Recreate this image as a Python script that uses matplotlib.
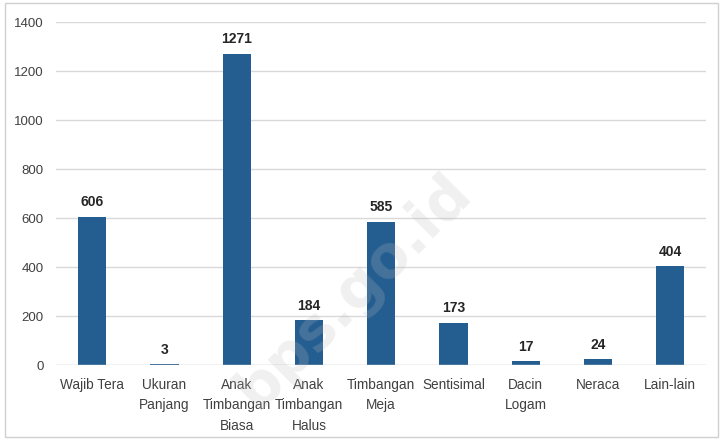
import matplotlib
matplotlib.use("Agg")
import matplotlib.pyplot as plt
from matplotlib.patches import Rectangle

categories = ["Wajib Tera", "Ukuran\nPanjang", "Anak\nTimbangan\nBiasa", "Anak\nTimbangan\nHalus",
              "Timbangan\nMeja", "Sentisimal", "Dacin\nLogam", "Neraca", "Lain-lain"]
values = [606, 3, 1271, 184, 585, 173, 17, 24, 404]
yticks = [0, 200, 400, 600, 800, 1000, 1200, 1400]

plt.rcParams['font.family'] = ['Liberation Sans', 'DejaVu Sans']

fig = plt.figure(figsize=(7.2, 4.41), dpi=100)
ax = fig.add_axes([0.078, 0.172, 0.903, 0.778])
x = range(len(categories))
ax.bar(x, values, width=0.39, color="#245E91", zorder=3)
for xi, v in zip(x, values):
    ax.text(xi, v + 30, str(v), ha="center", va="bottom", fontsize=10, fontweight="bold", color="#262626")
ax.set_xlim(-0.5, len(categories) - 0.5)
ax.set_ylim(0, 1400)
ax.set_yticks(yticks)
ax.set_yticklabels([str(t) for t in yticks], fontsize=9.5, color="#404040")
ax.set_xticks(list(x))
ax.set_xticklabels(categories, fontsize=9.8, color="#404040", linespacing=1.6)
ax.tick_params(length=0, pad=9)
ax.grid(axis="y", color="#D9D9D9", linewidth=1, zorder=0)
for s in ax.spines.values():
    s.set_visible(False)
ax.axhline(0, color="#D9D9D9", linewidth=1, zorder=4)

fig.text(0.49, 0.34, "bps.go.id", rotation=45, fontsize=42, fontweight="bold",
         color="#BBBBBB", alpha=0.22, ha="center", va="center", family="DejaVu Sans", zorder=10)

fig.patches.append(Rectangle((0.007, 0.009), 0.99, 0.985, transform=fig.transFigure,
                             fill=False, edgecolor="#D0D0D0", linewidth=1))
fig.savefig("out.png", dpi=100)
